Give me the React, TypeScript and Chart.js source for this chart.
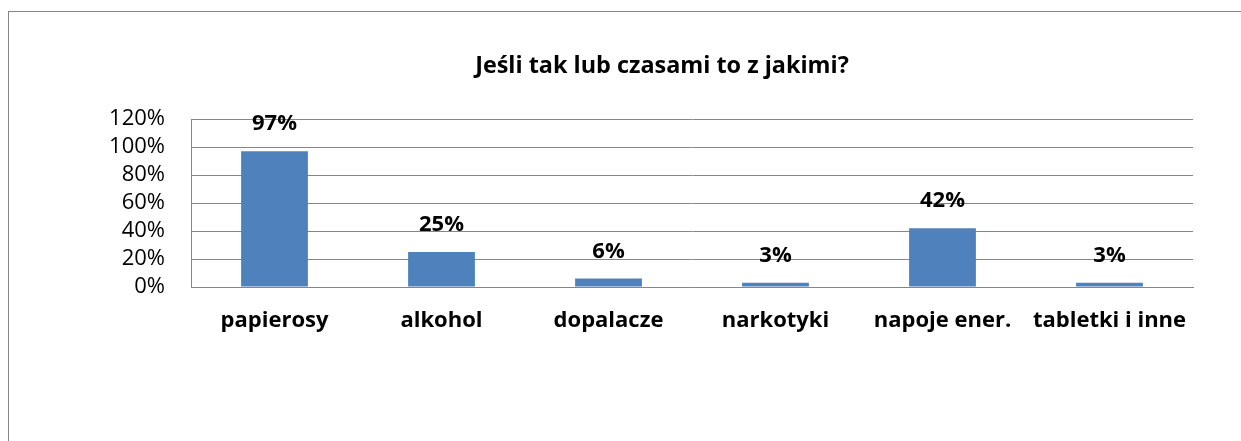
import { useEffect, useRef } from "react";
import { Chart, registerables } from "chart.js";

Chart.register(...registerables);

const categories = ["papierosy", "alkohol", "dopalacze", "narkotyki", "napoje ener.", "tabletki i inne"];
const values = [97, 25, 6, 3, 42, 3];
const yMin = 0;
const yMax = 120;
const yStep = 20;
const titleText = "Jeśli tak lub czasami to z jakimi?";

const FONT = "'Open Sans', 'Noto Sans', sans-serif";
const GRID = "#868686";
const BAR = "#4F81BD";

const overlay = {
  id: "overlay",
  afterDatasetsDraw(chart: any) {
    const ctx = chart.ctx;
    const meta = chart.getDatasetMeta(0);
    ctx.save();
    ctx.fillStyle = "#000";
    ctx.textAlign = "center";
    ctx.textBaseline = "middle";
    ctx.font = `bold 22px ${FONT}`;
    meta.data.forEach((bar: any, i: number) => {
      ctx.fillText(values[i] + "%", bar.x, bar.y - 27);
    });
    ctx.font = `bold 23.4px ${FONT}`;
    ctx.fillText(titleText, 662, 66.5);
    ctx.restore();
  },
};

export default function App() {
  const ref = useRef<HTMLCanvasElement | null>(null);
  useEffect(() => {
    if (!ref.current) return;
    const chart = new Chart(ref.current, {
      type: "bar",
      data: {
        labels: categories,
        datasets: [
          {
            data: values,
            backgroundColor: BAR,
            borderWidth: 0,
            barPercentage: 0.4,
            categoryPercentage: 1,
          },
        ],
      },
      options: {
        animation: false,
        responsive: false,
        maintainAspectRatio: false,
        layout: { padding: { left: 0, right: 48, top: 119, bottom: 0 } },
        plugins: { legend: { display: false }, title: { display: false }, tooltip: { enabled: false } },
        scales: {
          x: {
            grid: { display: false, drawTicks: false },
            border: { display: true, color: GRID, width: 1 },
            ticks: { color: "#000", font: { family: FONT, size: 22, weight: "bold" }, padding: 21, maxRotation: 0, autoSkip: false },
            afterFit: (s: any) => {
              s.height = 154;
            },
          },
          y: {
            min: yMin,
            max: yMax,
            grid: { color: GRID, lineWidth: 1, drawTicks: false },
            border: { display: true, color: GRID, width: 1 },
            ticks: {
              stepSize: yStep,
              autoSkip: false,
              color: "#000",
              font: { family: FONT, size: 22 },
              padding: 26,
              callback: (v: any) => v + "%",
            },
            afterFit: (s: any) => {
              s.width = 191;
            },
          },
        },
      },
      plugins: [overlay],
    });
    return () => chart.destroy();
  }, []);
  return (
    <div style={{ position: "absolute", left: 0, top: 0, width: 1241, height: 441, overflow: "hidden", background: "#fff" }}>
      <div
        style={{
          position: "absolute",
          left: 8,
          top: 11,
          width: 1300,
          height: 500,
          borderLeft: `1px solid ${GRID}`,
          borderTop: `1px solid ${GRID}`,
          boxSizing: "border-box",
        }}
      />
      <canvas ref={ref} width={1241} height={441} style={{ position: "absolute", left: 0, top: 0, width: 1241, height: 441 }} />
    </div>
  );
}
